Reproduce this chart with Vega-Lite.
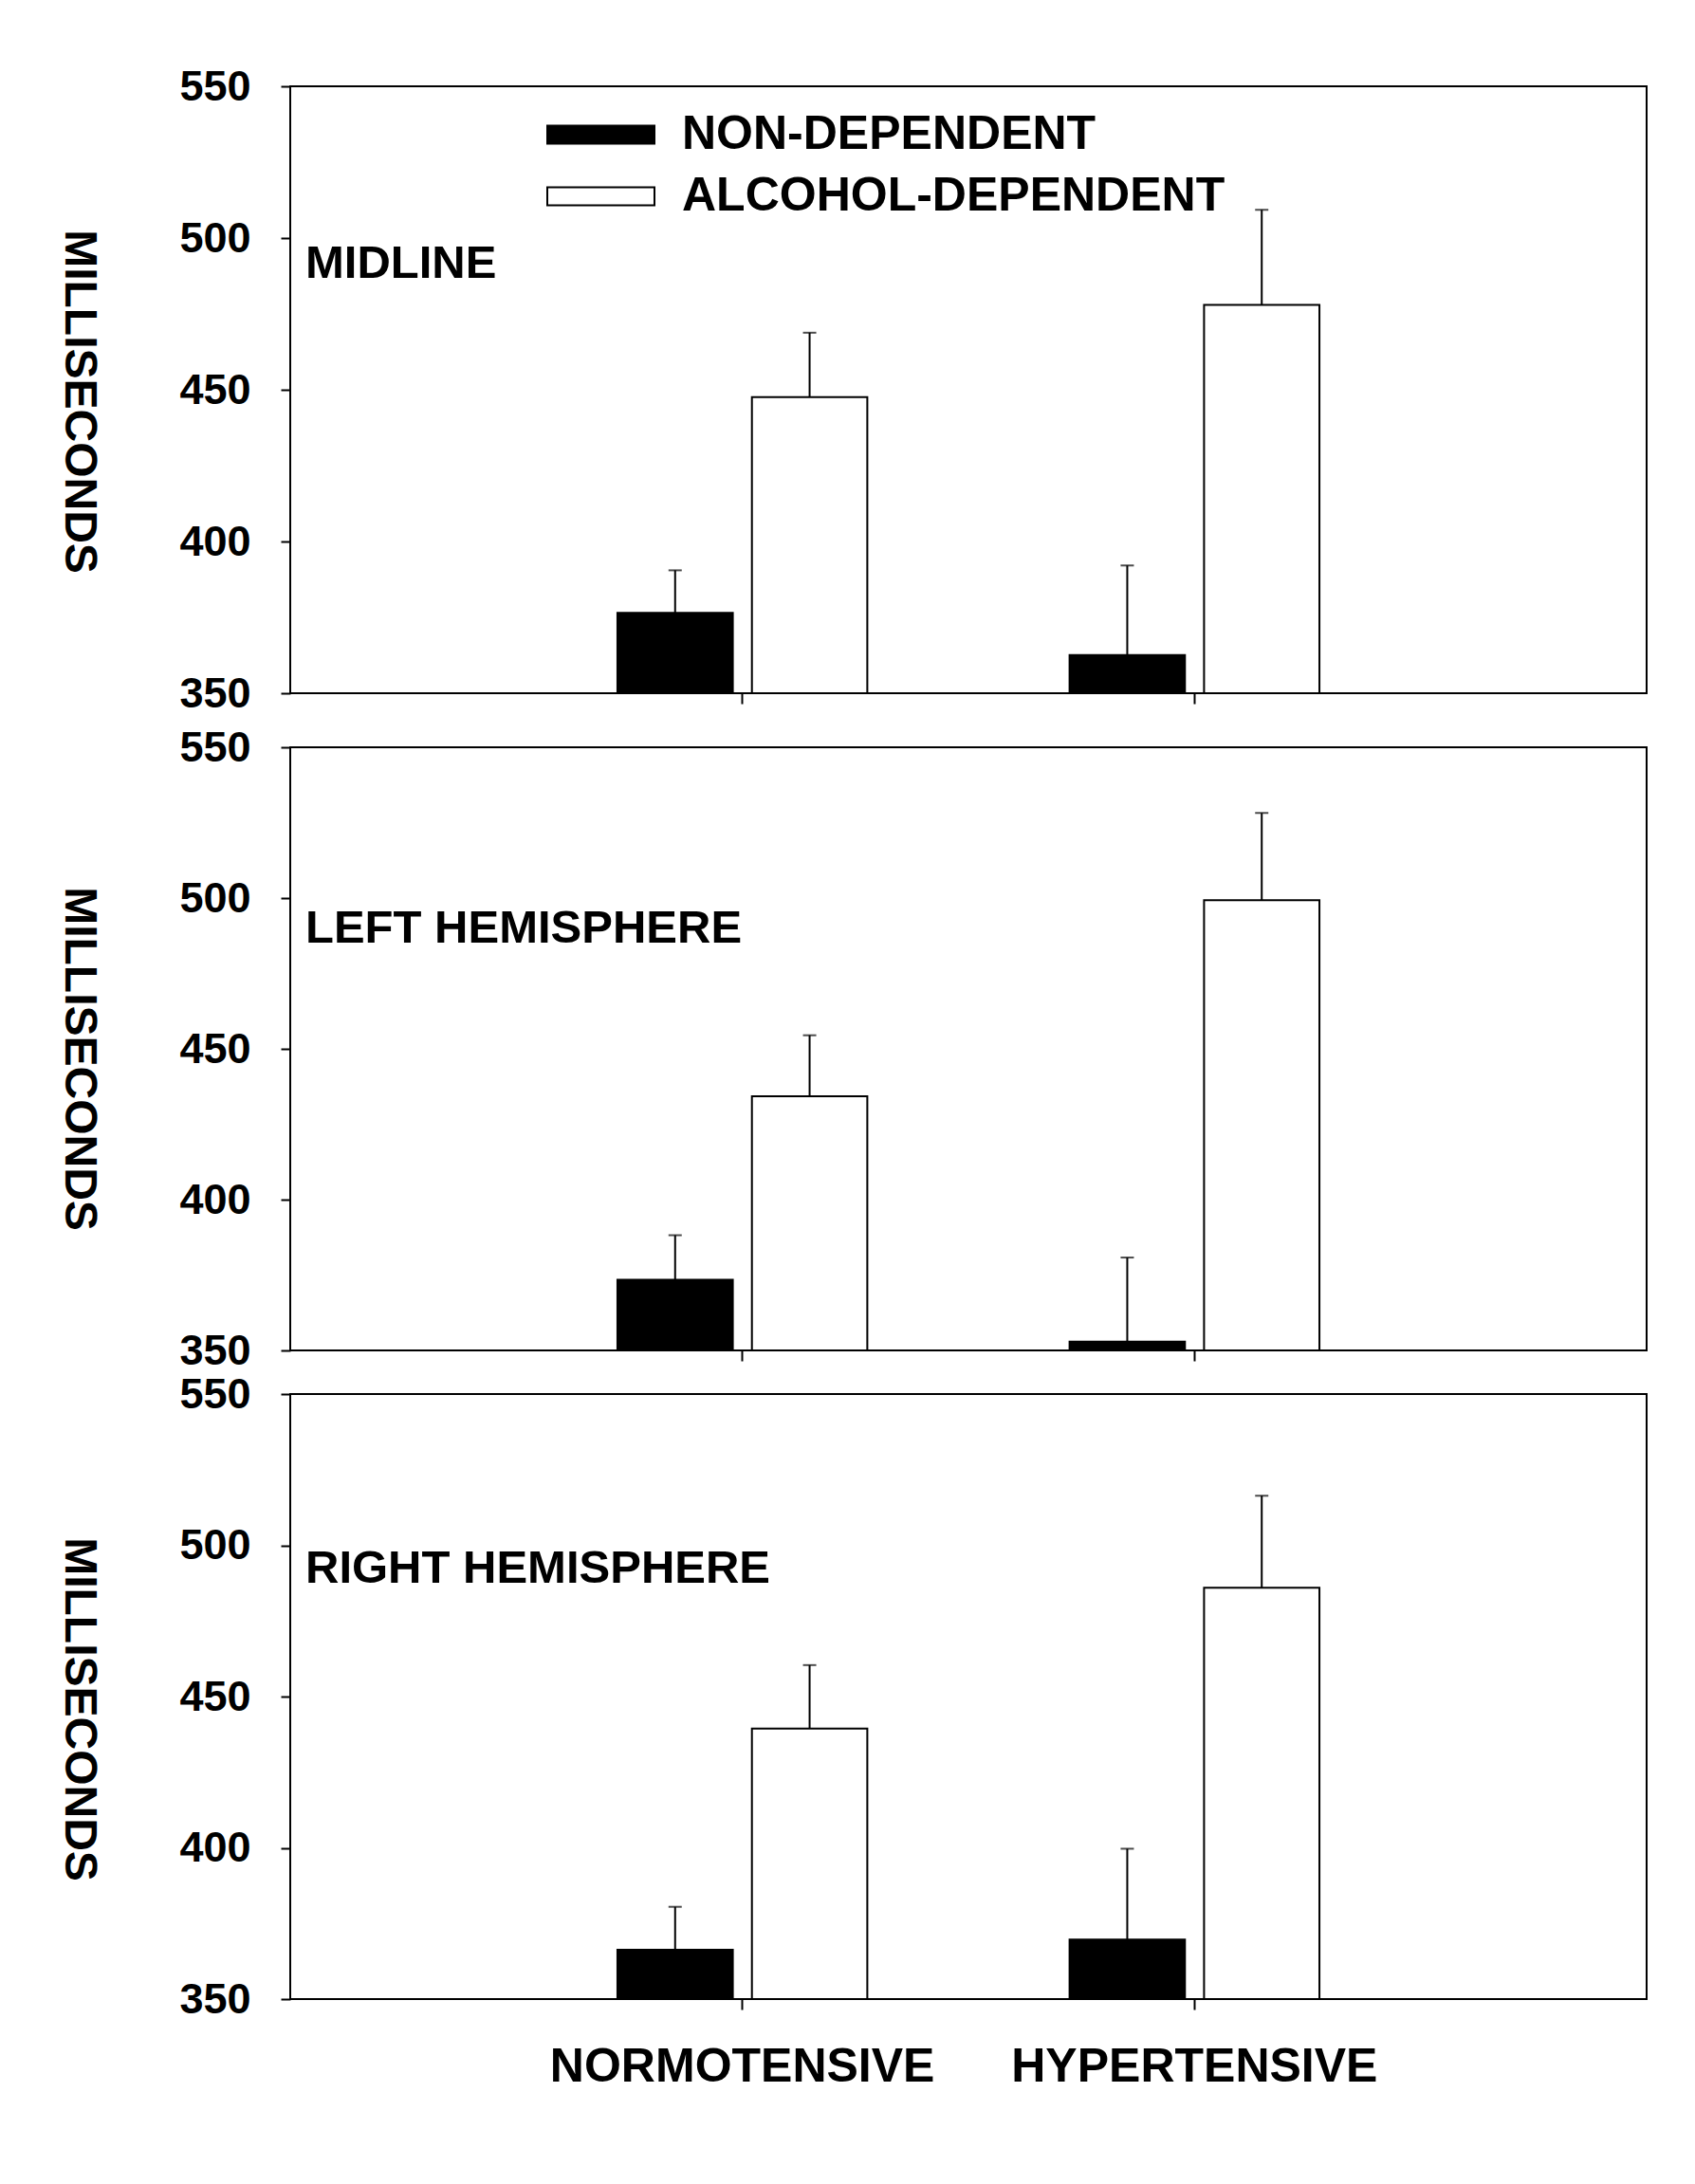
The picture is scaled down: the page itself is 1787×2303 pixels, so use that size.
{
  "$schema": "https://vega.github.io/schema/vega-lite/v6.json",
  "background": "white",
  "padding": {"left": 57, "top": 68, "right": 5, "bottom": 5},
  "config": {
    "font": "Liberation Sans",
    "view": {"stroke": "black", "strokeWidth": 2},
    "axis": {
      "grid": false,
      "labelFont": "Liberation Sans",
      "labelFontWeight": "bold",
      "labelColor": "black",
      "tickColor": "black",
      "tickWidth": 2,
      "domain": false,
      "titleFont": "Liberation Sans",
      "titleFontWeight": "bold",
      "titleColor": "black"
    },
    "title": {
      "font": "Liberation Sans",
      "fontWeight": "bold",
      "fontSize": 49,
      "color": "black",
      "anchor": "start",
      "frame": "group",
      "baseline": "alphabetic",
      "offset": 0,
      "dx": 16
    }
  },
  "datasets": {
    "rt": [
      {"region": "MIDLINE", "tension": "NORMOTENSIVE", "dep": "NON-DEPENDENT", "mean": 376.5, "upper": 390.5},
      {"region": "MIDLINE", "tension": "NORMOTENSIVE", "dep": "ALCOHOL-DEPENDENT", "mean": 447.6, "upper": 468.8},
      {"region": "MIDLINE", "tension": "HYPERTENSIVE", "dep": "NON-DEPENDENT", "mean": 362.6, "upper": 392.1},
      {"region": "MIDLINE", "tension": "HYPERTENSIVE", "dep": "ALCOHOL-DEPENDENT", "mean": 478.0, "upper": 509.3},
      {"region": "LEFT HEMISPHERE", "tension": "NORMOTENSIVE", "dep": "NON-DEPENDENT", "mean": 373.4, "upper": 388.2},
      {"region": "LEFT HEMISPHERE", "tension": "NORMOTENSIVE", "dep": "ALCOHOL-DEPENDENT", "mean": 434.3, "upper": 454.5},
      {"region": "LEFT HEMISPHERE", "tension": "HYPERTENSIVE", "dep": "NON-DEPENDENT", "mean": 352.9, "upper": 380.8},
      {"region": "LEFT HEMISPHERE", "tension": "HYPERTENSIVE", "dep": "ALCOHOL-DEPENDENT", "mean": 499.3, "upper": 528.2},
      {"region": "RIGHT HEMISPHERE", "tension": "NORMOTENSIVE", "dep": "NON-DEPENDENT", "mean": 366.3, "upper": 380.5},
      {"region": "RIGHT HEMISPHERE", "tension": "NORMOTENSIVE", "dep": "ALCOHOL-DEPENDENT", "mean": 439.4, "upper": 460.4},
      {"region": "RIGHT HEMISPHERE", "tension": "HYPERTENSIVE", "dep": "NON-DEPENDENT", "mean": 369.7, "upper": 399.7},
      {"region": "RIGHT HEMISPHERE", "tension": "HYPERTENSIVE", "dep": "ALCOHOL-DEPENDENT", "mean": 486.0, "upper": 516.4}
    ]
  },
  "data": {"name": "rt"},
  "bounds": "flush",
  "spacing": 57,
  "resolve": {"scale": {"fill": "independent"}, "legend": {"fill": "independent"}},
  "vconcat": [
    {
      "width": 1430,
      "height": 640,
      "title": {"text": "MIDLINE", "dy": 238},
      "transform": [{"filter": "datum.region == 'MIDLINE'"}],
      "encoding": {
        "x": {
          "field": "tension", "type": "nominal",
          "sort": ["NORMOTENSIVE", "HYPERTENSIVE"],
          "scale": {"paddingInner": 0, "paddingOuter": 0.5},
          "axis": {"title": null, "labels": false, "tickSize": 11}
        },
        "xOffset": {
          "field": "dep", "type": "nominal",
          "sort": ["NON-DEPENDENT", "ALCOHOL-DEPENDENT"],
          "scale": {"paddingInner": 0.142, "paddingOuter": 0.752}
        }
      },
      "layer": [
        {
          "mark": {"type": "bar", "stroke": "black", "strokeWidth": 2},
          "encoding": {
            "y": {
              "field": "mean", "type": "quantitative",
              "scale": {"domain": [350, 550], "zero": false, "nice": false},
              "axis": {
                "values": [350, 400, 450, 500, 550],
                "tickSize": 10, "labelPadding": 32, "labelFontSize": 45,
                "title": "MILLISECONDS", "titleFontSize": 48,
                "titleAngle": 90, "titlePadding": 130, "titleY": 332
              }
            },
            "y2": {"datum": 350},
            "fill": {
              "field": "dep", "type": "nominal",
              "scale": {"domain": ["NON-DEPENDENT", "ALCOHOL-DEPENDENT"], "range": ["black", "white"]},
              "legend": {
                "orient": "none", "legendX": 270, "legendY": 21,
                "title": null, "padding": 0,
                "symbolType": "M-1,-0.17H1V0.17H-1Z", "symbolSize": 12769,
                "symbolStrokeColor": "black", "symbolStrokeWidth": 2,
                "labelFont": "Liberation Sans", "labelFontSize": 50,
                "labelFontWeight": "bold", "labelColor": "black",
                "labelOffset": 28, "labelLimit": 1000,
                "clipHeight": 60, "rowPadding": 5
              }
            }
          }
        },
        {
          "mark": {"type": "rule", "color": "black", "strokeWidth": 2},
          "encoding": {
            "y": {"field": "mean", "type": "quantitative"},
            "y2": {"field": "upper"}
          }
        },
        {
          "mark": {"type": "tick", "color": "black", "thickness": 2, "size": 14},
          "encoding": {"y": {"field": "upper", "type": "quantitative"}}
        }
      ]
    },
    {
      "bounds": "flush",
      "spacing": 46,
      "resolve": {"scale": {"fill": "independent"}, "legend": {"fill": "independent"}},
      "vconcat": [
        {
          "width": 1430,
          "height": 636,
          "title": {"text": "LEFT HEMISPHERE", "dy": 242},
          "transform": [{"filter": "datum.region == 'LEFT HEMISPHERE'"}],
          "encoding": {
            "x": {
              "field": "tension", "type": "nominal",
              "sort": ["NORMOTENSIVE", "HYPERTENSIVE"],
              "scale": {"paddingInner": 0, "paddingOuter": 0.5},
              "axis": {"title": null, "labels": false, "tickSize": 11}
            },
            "xOffset": {
              "field": "dep", "type": "nominal",
              "sort": ["NON-DEPENDENT", "ALCOHOL-DEPENDENT"],
              "scale": {"paddingInner": 0.142, "paddingOuter": 0.752}
            }
          },
          "layer": [
            {
              "mark": {"type": "bar", "stroke": "black", "strokeWidth": 2},
              "encoding": {
                "y": {
                  "field": "mean", "type": "quantitative",
                  "scale": {"domain": [350, 550], "zero": false, "nice": false},
                  "axis": {
                    "values": [350, 400, 450, 500, 550],
                    "tickSize": 10, "labelPadding": 32, "labelFontSize": 45,
                    "title": "MILLISECONDS", "titleFontSize": 48,
                    "titleAngle": 90, "titlePadding": 130, "titleY": 328
                  }
                },
                "y2": {"datum": 350},
                "fill": {
                  "field": "dep", "type": "nominal",
                  "scale": {"domain": ["NON-DEPENDENT", "ALCOHOL-DEPENDENT"], "range": ["black", "white"]},
                  "legend": null
                }
              }
            },
            {
              "mark": {"type": "rule", "color": "black", "strokeWidth": 2},
              "encoding": {
                "y": {"field": "mean", "type": "quantitative"},
                "y2": {"field": "upper"}
              }
            },
            {
              "mark": {"type": "tick", "color": "black", "thickness": 2, "size": 14},
              "encoding": {"y": {"field": "upper", "type": "quantitative"}}
            }
          ]
        },
        {
          "width": 1430,
          "height": 638,
          "title": {"text": "RIGHT HEMISPHERE", "dy": 235},
          "transform": [{"filter": "datum.region == 'RIGHT HEMISPHERE'"}],
          "encoding": {
            "x": {
              "field": "tension", "type": "nominal",
              "sort": ["NORMOTENSIVE", "HYPERTENSIVE"],
              "scale": {"paddingInner": 0, "paddingOuter": 0.5},
              "axis": {
                "title": null, "tickSize": 11, "labelAngle": 0,
                "labelFontSize": 50, "labelPadding": 35, "labelLimit": 1000
              }
            },
            "xOffset": {
              "field": "dep", "type": "nominal",
              "sort": ["NON-DEPENDENT", "ALCOHOL-DEPENDENT"],
              "scale": {"paddingInner": 0.142, "paddingOuter": 0.752}
            }
          },
          "layer": [
            {
              "mark": {"type": "bar", "stroke": "black", "strokeWidth": 2},
              "encoding": {
                "y": {
                  "field": "mean", "type": "quantitative",
                  "scale": {"domain": [350, 550], "zero": false, "nice": false},
                  "axis": {
                    "values": [350, 400, 450, 500, 550],
                    "tickSize": 10, "labelPadding": 32, "labelFontSize": 45,
                    "title": "MILLISECONDS", "titleFontSize": 48,
                    "titleAngle": 90, "titlePadding": 130, "titleY": 332
                  }
                },
                "y2": {"datum": 350},
                "fill": {
                  "field": "dep", "type": "nominal",
                  "scale": {"domain": ["NON-DEPENDENT", "ALCOHOL-DEPENDENT"], "range": ["black", "white"]},
                  "legend": null
                }
              }
            },
            {
              "mark": {"type": "rule", "color": "black", "strokeWidth": 2},
              "encoding": {
                "y": {"field": "mean", "type": "quantitative"},
                "y2": {"field": "upper"}
              }
            },
            {
              "mark": {"type": "tick", "color": "black", "thickness": 2, "size": 14},
              "encoding": {"y": {"field": "upper", "type": "quantitative"}}
            }
          ]
        }
      ]
    }
  ]
}
